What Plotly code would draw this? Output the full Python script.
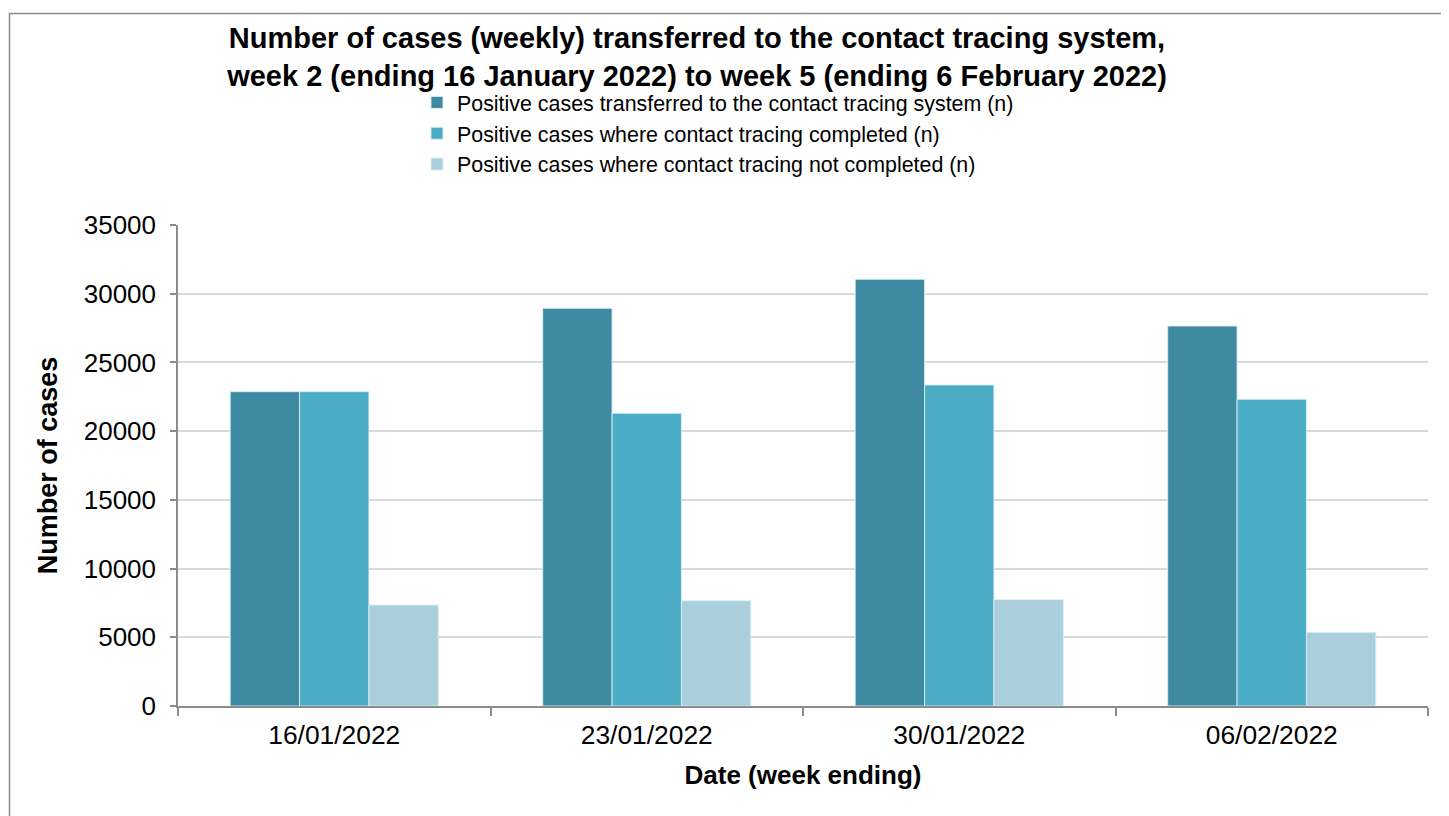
import plotly.graph_objects as go

categories = ["16/01/2022", "23/01/2022", "30/01/2022", "06/02/2022"]
transferred = [22870, 28940, 31050, 27650]
completed = [22870, 21300, 23360, 22320]
not_completed = [7350, 7660, 7740, 5360]

series_names = [
    "Positive cases transferred to the contact tracing system (n)",
    "Positive cases where contact tracing completed (n)",
    "Positive cases where contact tracing not completed (n)",
]
colors = ["#3d8aa2", "#4bacc6", "#a9cedc"]
y_ticks = [0, 5000, 10000, 15000, 20000, 25000, 30000, 35000]

# page has an 8px body margin, so figure coordinates = page coordinates - 8
W, H = 1441, 808
L, R, T, B = 170, 21, 217, 110
FONT = "Liberation Sans, Arial, sans-serif"

fig = go.Figure()
for name, vals, col in zip(series_names, [transferred, completed, not_completed], colors):
    fig.add_trace(go.Bar(
        x=categories, y=vals, name=name,
        marker=dict(color=col, line=dict(color="rgba(220,238,244,0.9)", width=1)),
    ))

pw = W - L - R
ph = H - T - B
def px_to_paper_x(px):
    return (px - L) / pw
def px_to_paper_y(py):
    return (H - B - py) / ph

fig.update_layout(
    width=W, height=H,
    margin=dict(l=L, r=R, t=T, b=B),
    paper_bgcolor="white", plot_bgcolor="white",
    font=dict(family=FONT, color="black"),
    barmode="group", bargap=0.334, bargroupgap=0,
    title=dict(
        text="<b>Number of cases (weekly) transferred to the contact tracing system,<br>week 2 (ending 16 January 2022) to week 5 (ending 6 February 2022)</b>",
        font=dict(size=29, family=FONT, color="black"),
        x=689 / W, xanchor="center", xref="container",
        y=1 - 40 / H, yanchor="top", yref="container",
    ),
    legend=dict(
        x=px_to_paper_x(409), xanchor="left", xref="paper",
        y=px_to_paper_y(74), yanchor="top", yref="paper",
        font=dict(size=21.4, family=FONT, color="black"),
        bgcolor="rgba(0,0,0,0)",
        traceorder="normal",
        itemclick=False,
    ),
    xaxis=dict(
        type="category",
        showline=True, linecolor="#8c8c8c", linewidth=1.5,
        ticks="outside", tickson="boundaries", ticklen=8, tickcolor="#8c8c8c", tickwidth=1.5,
        tickangle=0, ticklabelstandoff=5,
        tickfont=dict(size=26.4, family=FONT, color="black"),
        title=dict(text="<b>Date (week ending)</b>", font=dict(size=26, family=FONT, color="black"), standoff=16),
        showgrid=False,
    ),
    yaxis=dict(
        range=[0, 35000], tickvals=y_ticks, ticktext=[str(v) for v in y_ticks],
        showline=True, linecolor="#8c8c8c", linewidth=1.5,
        ticks="outside", ticklen=6, tickcolor="#8c8c8c", tickwidth=1.5,
        ticklabelstandoff=9,
        showgrid=True, gridcolor="#d9d9d9", gridwidth=1.5,
        zeroline=False,
        tickfont=dict(size=26, family=FONT, color="black"),
        title=dict(text="\u00a0" * 6 + "<b>Number of cases</b>", font=dict(size=27, family=FONT, color="black"), standoff=18),
    ),
)

# outer chart border (left and top edges visible)
fig.add_shape(
    type="rect", xref="paper", yref="paper",
    x0=px_to_paper_x(1.5), x1=px_to_paper_x(1460),
    y0=px_to_paper_y(830), y1=px_to_paper_y(5.5),
    line=dict(color="#8c8c8c", width=1.5), fillcolor="rgba(0,0,0,0)", layer="below",
)

fig.write_html("out.html")
